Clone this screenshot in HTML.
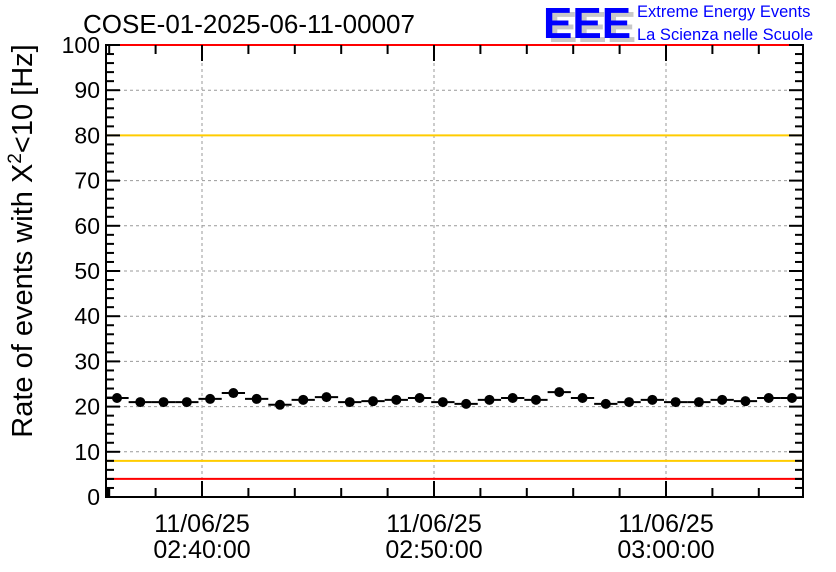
<!DOCTYPE html>
<html><head><meta charset="utf-8"><style>
html,body{margin:0;padding:0;background:#fff;}
svg{display:block;font-family:"Liberation Sans",sans-serif;}
</style></head><body>
<svg id="s" width="836" height="572" xmlns="http://www.w3.org/2000/svg">
<rect width="836" height="572" fill="#fff"/>
<text x="83" y="33" font-size="26" fill="#000">COSE-01-2025-06-11-00007</text>
<g font-size="44" font-weight="bold">
<text x="548" y="42" fill="#c8c8c8">EEE</text>
<text x="543" y="38" fill="#0000ff">EEE</text>
</g>
<text x="637" y="17" font-size="16.5" fill="#0000ff">Extreme Energy Events</text>
<text x="637" y="40" font-size="16.5" fill="#0000ff">La Scienza nelle Scuole</text>
<g id="g"></g>
<text transform="translate(32,241) rotate(-90)" font-size="29" text-anchor="middle" fill="#000">Rate of events with X<tspan dy="-11" font-size="19">2</tspan><tspan dy="11">&lt;10 [Hz]</tspan></text>
<g font-size="25" text-anchor="middle" fill="#000">
<text x="202" y="532">11/06/25</text><text x="202" y="558">02:40:00</text>
<text x="434" y="532">11/06/25</text><text x="434" y="558">02:50:00</text>
<text x="666" y="532">11/06/25</text><text x="666" y="558">03:00:00</text>
</g>
</svg>
<script>
var L=106,R=803,T=45,B=497,k=(B-T)/100,h='';
function y(v){return B-v*k;}
for(var v=10;v<100;v+=10)h+='<line x1="'+L+'" x2="'+R+'" y1="'+y(v)+'" y2="'+y(v)+'" stroke="#999" stroke-dasharray="3,3"/>';
[202,434,666].forEach(function(x){h+='<line x1="'+x+'" x2="'+x+'" y1="'+T+'" y2="'+B+'" stroke="#999" stroke-dasharray="3,3"/>';});
h+='<line x1="'+L+'" x2="'+R+'" y1="'+y(80)+'" y2="'+y(80)+'" stroke="#ffcc00" stroke-width="2"/>';
h+='<line x1="'+L+'" x2="'+R+'" y1="'+y(8)+'" y2="'+y(8)+'" stroke="#ffcc00" stroke-width="2"/>';
h+='<line x1="'+L+'" x2="'+R+'" y1="'+y(4)+'" y2="'+y(4)+'" stroke="#ff0000" stroke-width="2"/>';
h+='<rect x="'+L+'" y="'+T+'" width="'+(R-L)+'" height="'+(B-T)+'" fill="none" stroke="#000" stroke-width="2"/>';
h+='<line x1="'+L+'" x2="'+R+'" y1="'+T+'" y2="'+T+'" stroke="#ff0000" stroke-width="2"/>';
for(var v=0;v<=100;v+=2){var len=(v%10==0)?14:8,yy=y(v);
h+='<line x1="'+L+'" x2="'+(L+len)+'" y1="'+yy+'" y2="'+yy+'" stroke="#000" stroke-width="2"/>';
h+='<line x1="'+(R-len)+'" x2="'+R+'" y1="'+yy+'" y2="'+yy+'" stroke="#000" stroke-width="2"/>';
if(v%10==0)h+='<text x="'+(L-6)+'" y="'+(yy+8)+'" font-size="23" text-anchor="end">'+v+'</text>';}
for(var x=202-46.4*2;x<=R;x+=46.4){var r=((x-202)%232+232)%232;var mj=r<1||r>231;var len=mj?16:9;
if(x<L)continue;
h+='<line x1="'+x+'" x2="'+x+'" y1="'+B+'" y2="'+(B-len)+'" stroke="#000" stroke-width="2"/>';
h+='<line x1="'+x+'" x2="'+x+'" y1="'+T+'" y2="'+(T+len)+'" stroke="#000" stroke-width="2"/>';}
h+='<line x1="108" x2="108" y1="'+B+'" y2="'+(B-9)+'" stroke="#000" stroke-width="2"/>';
var d=[21.9,21.0,21.0,21.0,21.7,23.0,21.7,20.4,21.5,22.1,21.0,21.2,21.5,21.9,21.0,20.6,21.5,21.9,21.5,23.2,21.9,20.6,21.0,21.5,21.0,21.0,21.5,21.2,21.9,21.9];
var dx=(792-117)/29;
d.forEach(function(v,i){var x=117+i*dx,yy=y(v);
h+='<line x1="'+(x-dx/2)+'" x2="'+(x+dx/2)+'" y1="'+yy+'" y2="'+yy+'" stroke="#000" stroke-width="2"/>';
h+='<circle cx="'+x+'" cy="'+yy+'" r="5" fill="#000"/>';});
document.getElementById('g').innerHTML=h;
</script>
</body></html>
